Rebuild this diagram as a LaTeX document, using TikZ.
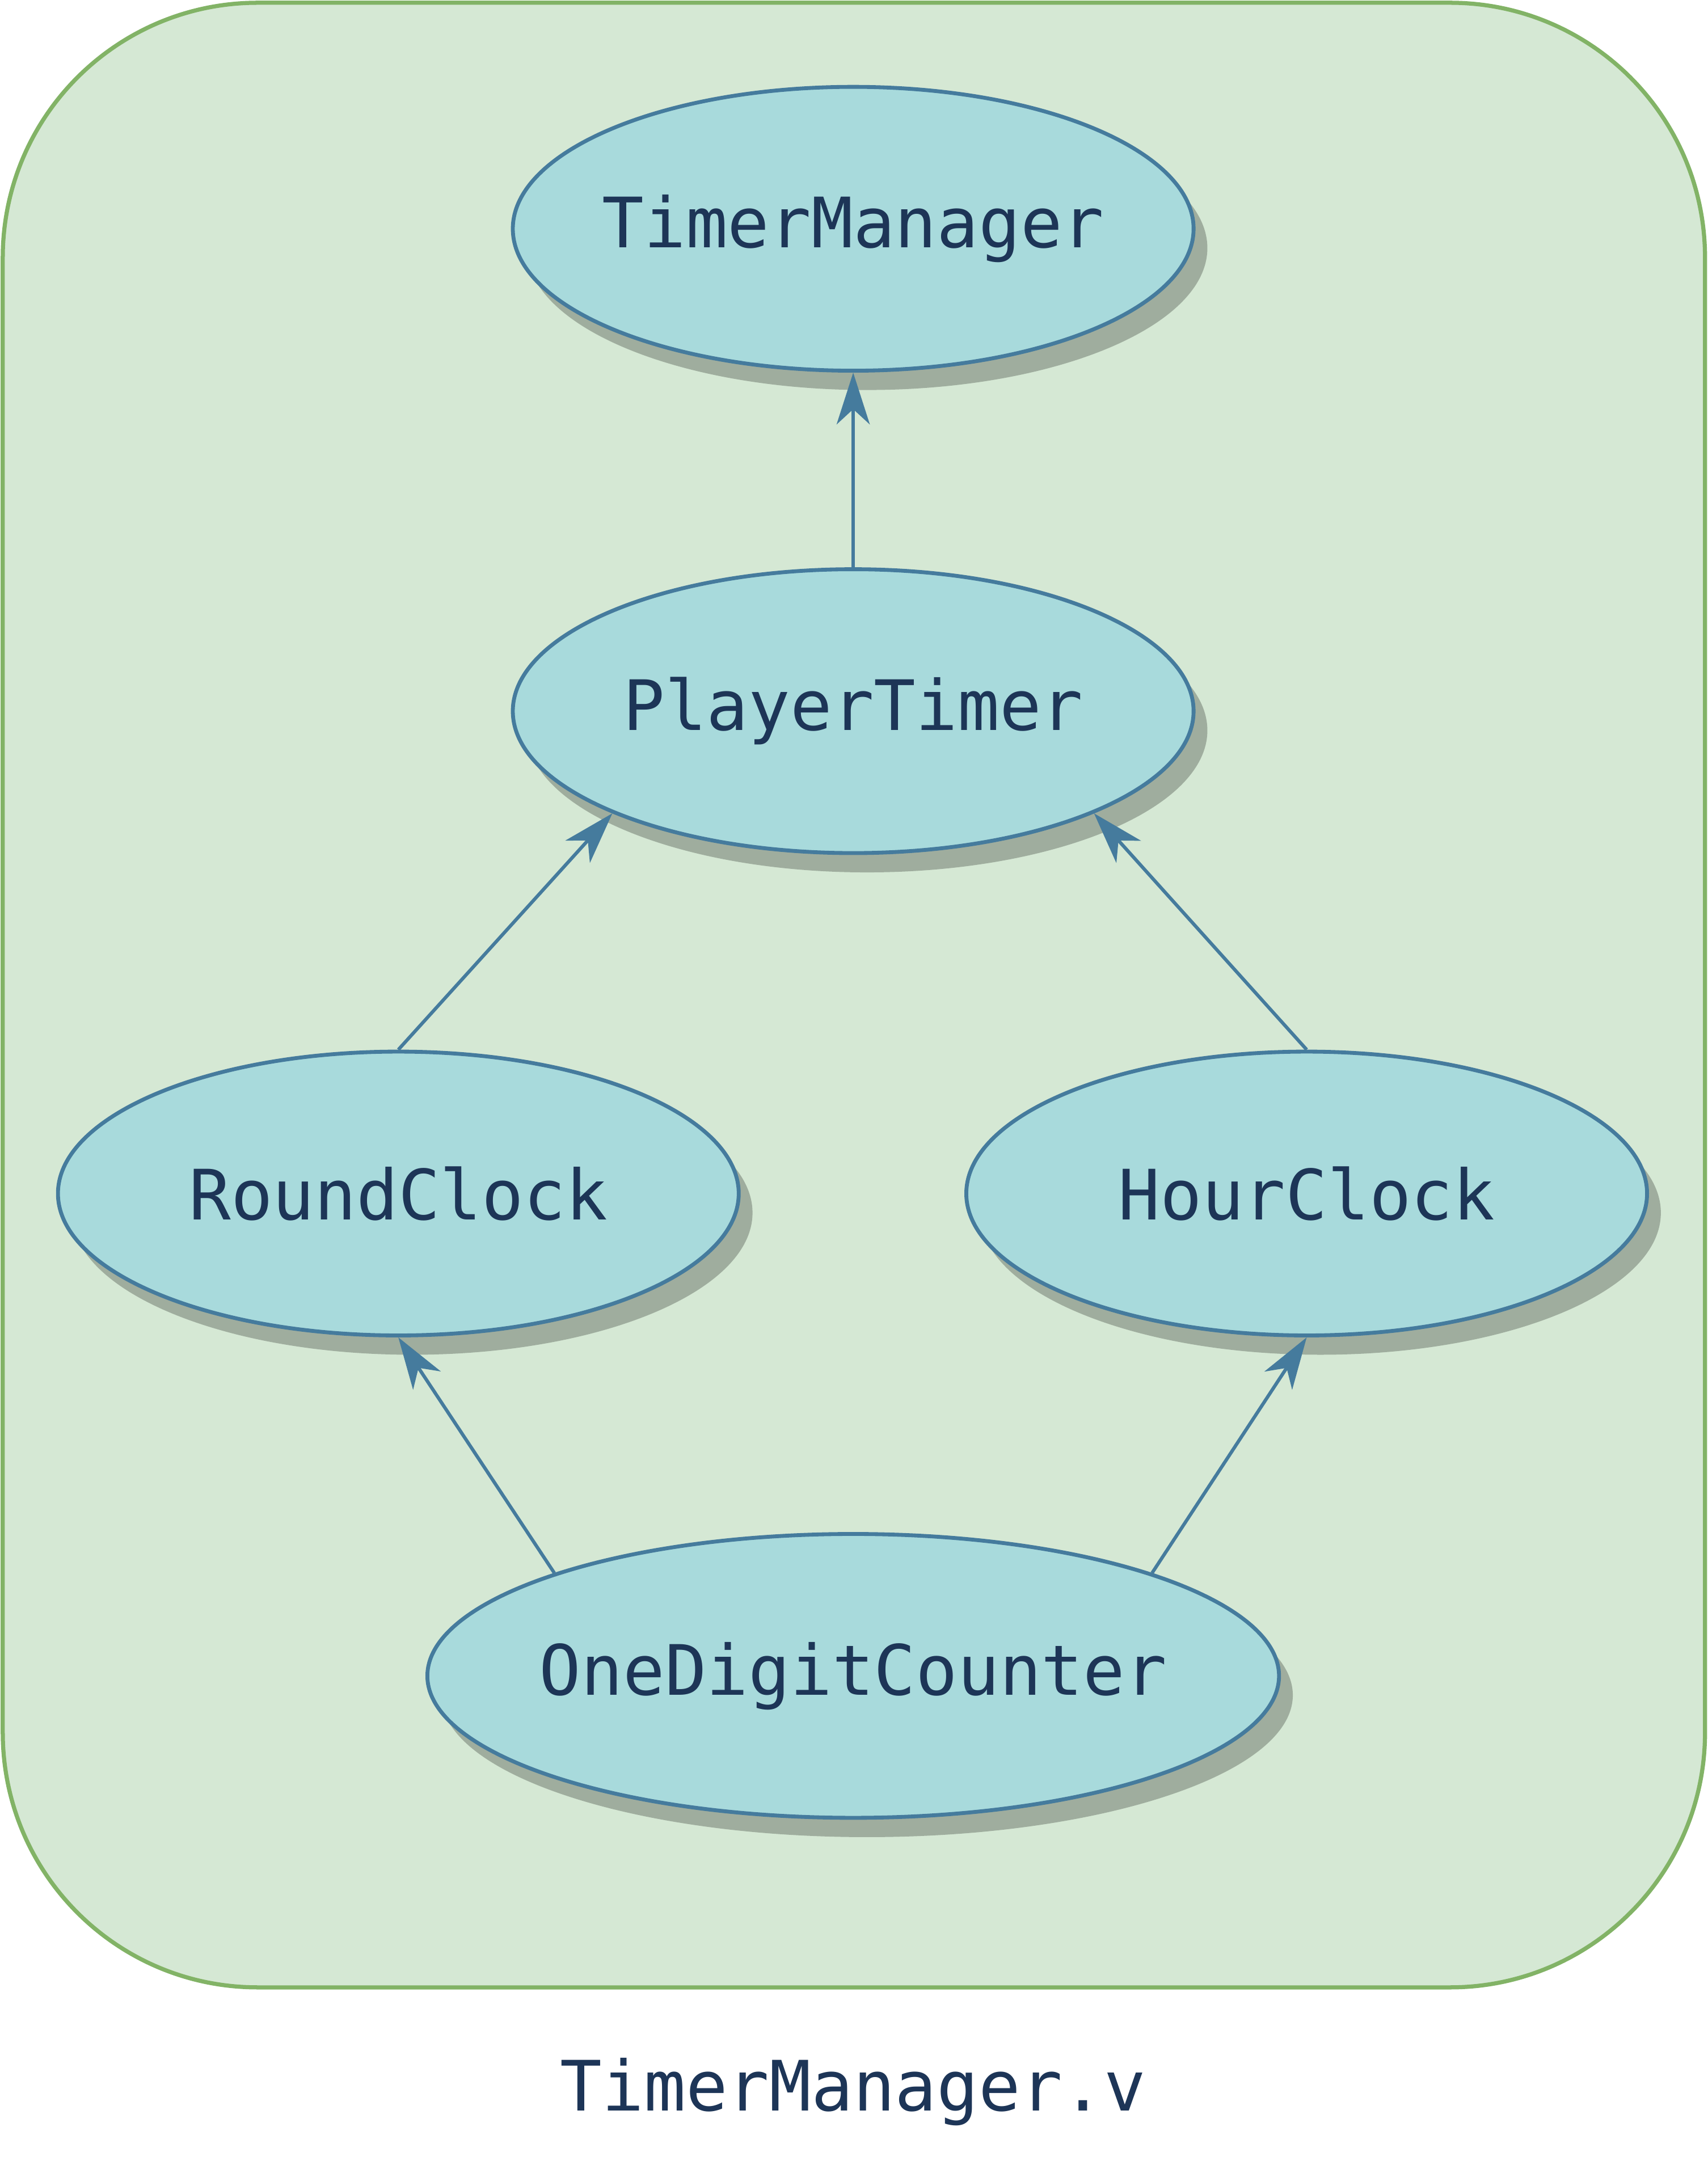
\documentclass[tikz,border=0pt]{standalone}
\usepackage{fontspec}
\setmonofont{DejaVu Sans Mono}
\usetikzlibrary{shapes.geometric,arrows.meta,shadows}
\definecolor{boxfill}{HTML}{D5E8D4}
\definecolor{boxline}{HTML}{82B366}
\definecolor{modfill}{HTML}{A8DADC}
\definecolor{modline}{HTML}{457B9D}
\definecolor{modtext}{HTML}{1D3557}

\begin{document}
\begin{tikzpicture}[x=0.02cm,y=-0.02cm,
	module/.style={ellipse, draw=modline, fill=modfill, line width=1.6pt, text=modtext,
		minimum width=9.88cm, minimum height=4.12cm, inner xsep=-2cm, inner ysep=0pt,
		font=\ttfamily\fontsize{28.7}{34}\selectfont,
		drop shadow={shadow xshift=0.2cm, shadow yshift=-0.28cm, fill=black, opacity=0.25}},
	link/.style={draw=modline, line width=1.4pt, -{Stealth[length=0.75cm, width=0.48cm, inset=0.22cm]}}]
	\useasboundingbox (0,0) rectangle (1239,1568);
	\draw[boxline, fill=boxfill, line width=1.7pt, rounded corners=3.7cm] (2,2) rectangle (1237,1442);
	\node[module] (tm) at (619,166) {TimerManager};
	\node[module] (pt) at (619,516) {PlayerTimer};
	\node[module] (rc) at (289,866) {RoundClock};
	\node[module] (hc) at (948,866) {HourClock};
	\node[module, minimum width=12.36cm] (odc) at (619,1216) {OneDigitCounter};
	% connectors
	\draw[link] (pt.north) -- (tm.south);
	\draw[link] (rc.north) -- (pt.203);
	\draw[link] (hc.north) -- (pt.-23);
	\draw[link] (odc.161) -- (rc.south);
	\draw[link] (odc.19) -- (hc.south);
	\node[text=modtext, font=\ttfamily\fontsize{28.7}{34}\selectfont] (file) at (619,1518) {TimerManager.v};
\end{tikzpicture}
\end{document}
